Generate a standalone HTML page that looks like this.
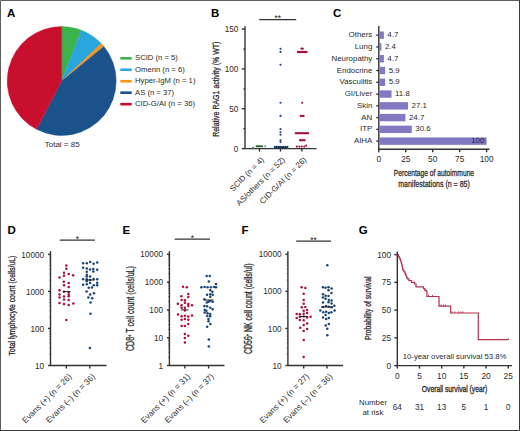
<!DOCTYPE html>
<html><head><meta charset="utf-8"><style>
html,body{margin:0;padding:0;background:#fff;}
svg{display:block;}
text{font-family:"Liberation Sans", sans-serif;}
</style></head><body>
<svg width="520" height="431" viewBox="0 0 520 431" font-family='"Liberation Sans", sans-serif'><text x="7" y="16.8" font-size="11.5" font-weight="bold" fill="#000">A</text>
<path d="M61.7,81.0 L61.70,26.50 A54.5,54.5 0 0 1 81.39,30.18 Z" fill="#3cb44b" stroke="#3cb44b" stroke-width="0.4" stroke-linejoin="round"/>
<path d="M61.7,81.0 L81.39,30.18 A54.5,54.5 0 0 1 101.29,43.55 Z" fill="#29a6dc" stroke="#29a6dc" stroke-width="0.4" stroke-linejoin="round"/>
<path d="M61.7,81.0 L101.29,43.55 A54.5,54.5 0 0 1 103.95,46.57 Z" fill="#f7941d" stroke="#f7941d" stroke-width="0.4" stroke-linejoin="round"/>
<path d="M61.7,81.0 L103.95,46.57 A54.5,54.5 0 0 1 36.51,129.33 Z" fill="#1a528b" stroke="#1a528b" stroke-width="0.4" stroke-linejoin="round"/>
<path d="M61.7,81.0 L36.51,129.33 A54.5,54.5 0 0 1 61.70,26.50 Z" fill="#c8102e" stroke="#c8102e" stroke-width="0.4" stroke-linejoin="round"/>
<rect x="120.3" y="57.00" width="11.4" height="2.6" fill="#3cb44b"/>
<text x="135.00" y="60.30" font-size="7.7" text-anchor="start" fill="#2b2b2b" font-weight="normal" >SCID (n = 5)</text>
<rect x="120.3" y="68.47" width="11.4" height="2.6" fill="#29a6dc"/>
<text x="135.00" y="71.77" font-size="7.7" text-anchor="start" fill="#2b2b2b" font-weight="normal" >Omenn (n = 6)</text>
<rect x="120.3" y="79.94" width="11.4" height="2.6" fill="#f7941d"/>
<text x="135.00" y="83.24" font-size="7.7" text-anchor="start" fill="#2b2b2b" font-weight="normal" >Hyper-IgM (n = 1)</text>
<rect x="120.3" y="91.41" width="11.4" height="2.6" fill="#1a528b"/>
<text x="135.00" y="94.71" font-size="7.7" text-anchor="start" fill="#2b2b2b" font-weight="normal" >AS (n = 37)</text>
<rect x="120.3" y="102.88" width="11.4" height="2.6" fill="#c8102e"/>
<text x="135.00" y="106.18" font-size="7.7" text-anchor="start" fill="#2b2b2b" font-weight="normal" >CID-G/AI (n = 36)</text>
<text x="62.20" y="146.90" font-size="8" text-anchor="middle" fill="#2b2b2b" font-weight="normal" >Total = 85</text>
<text x="211" y="16.5" font-size="11.5" font-weight="bold" fill="#000">B</text>
<line x1="245.00" y1="26.30" x2="245.00" y2="149.10" stroke="#333" stroke-width="1.4"/>
<line x1="244.50" y1="148.60" x2="316.50" y2="148.60" stroke="#333" stroke-width="1.4"/>
<line x1="241.80" y1="148.60" x2="245.00" y2="148.60" stroke="#333" stroke-width="1.4"/>
<text x="238.30" y="151.50" font-size="8.2" text-anchor="end" fill="#2b2b2b" font-weight="normal" >0</text>
<line x1="241.80" y1="108.77" x2="245.00" y2="108.77" stroke="#333" stroke-width="1.4"/>
<text x="238.30" y="111.67" font-size="8.2" text-anchor="end" fill="#2b2b2b" font-weight="normal" >50</text>
<line x1="241.80" y1="68.93" x2="245.00" y2="68.93" stroke="#333" stroke-width="1.4"/>
<text x="238.30" y="71.83" font-size="8.2" text-anchor="end" fill="#2b2b2b" font-weight="normal" >100</text>
<line x1="241.80" y1="29.10" x2="245.00" y2="29.10" stroke="#333" stroke-width="1.4"/>
<text x="238.30" y="32.00" font-size="8.2" text-anchor="end" fill="#2b2b2b" font-weight="normal" >150</text>
<line x1="243.40" y1="128.68" x2="245.00" y2="128.68" stroke="#333" stroke-width="1.4"/>
<line x1="243.40" y1="88.85" x2="245.00" y2="88.85" stroke="#333" stroke-width="1.4"/>
<line x1="243.40" y1="49.02" x2="245.00" y2="49.02" stroke="#333" stroke-width="1.4"/>
<line x1="259.50" y1="148.60" x2="259.50" y2="151.60" stroke="#333" stroke-width="1.4"/>
<line x1="280.50" y1="148.60" x2="280.50" y2="151.60" stroke="#333" stroke-width="1.4"/>
<line x1="302.00" y1="148.60" x2="302.00" y2="151.60" stroke="#333" stroke-width="1.4"/>
<text x="0" y="0" font-size="9.6" text-anchor="middle" fill="#2a2a2a" font-weight="normal" stroke="#2a2a2a" stroke-width="0.274" transform="translate(219.00 89.20) rotate(-90) scale(0.7307 1)">Relative RAG1 activity (% WT)</text>
<line x1="259.20" y1="19.60" x2="296.20" y2="19.60" stroke="#333" stroke-width="1.2"/>
<text x="277.70" y="21.20" font-size="8.5" text-anchor="middle" fill="#222" font-weight="normal" >**</text>
<circle cx="253.10" cy="147.60" r="1.0" fill="#4aa84a"/>
<circle cx="265.20" cy="146.30" r="1.0" fill="#4aa84a"/>
<line x1="255.80" y1="146.30" x2="262.90" y2="146.30" stroke="#1f4f22" stroke-width="1.7"/>
<circle cx="280.50" cy="48.80" r="1.05" fill="#194375"/>
<circle cx="280.50" cy="51.90" r="1.05" fill="#194375"/>
<circle cx="280.50" cy="64.70" r="1.05" fill="#194375"/>
<circle cx="280.50" cy="102.70" r="1.05" fill="#194375"/>
<circle cx="280.50" cy="115.90" r="1.05" fill="#194375"/>
<circle cx="280.50" cy="129.10" r="1.05" fill="#194375"/>
<circle cx="280.50" cy="132.20" r="1.05" fill="#194375"/>
<circle cx="280.50" cy="134.70" r="1.05" fill="#194375"/>
<circle cx="280.50" cy="140.30" r="1.05" fill="#194375"/>
<circle cx="280.50" cy="142.10" r="1.05" fill="#194375"/>
<circle cx="274.80" cy="146.90" r="1.05" fill="#194375"/>
<circle cx="276.90" cy="146.90" r="1.05" fill="#194375"/>
<circle cx="279.00" cy="146.90" r="1.05" fill="#194375"/>
<circle cx="281.10" cy="146.90" r="1.05" fill="#194375"/>
<circle cx="283.20" cy="146.90" r="1.05" fill="#194375"/>
<circle cx="285.30" cy="146.90" r="1.05" fill="#194375"/>
<circle cx="287.40" cy="146.90" r="1.05" fill="#194375"/>
<line x1="274.50" y1="147.20" x2="287.50" y2="147.20" stroke="#0e2a50" stroke-width="1.3"/>
<circle cx="301.80" cy="48.50" r="1.05" fill="#aa0f3b"/>
<circle cx="302.20" cy="102.70" r="1.05" fill="#aa0f3b"/>
<circle cx="300.80" cy="115.90" r="1.05" fill="#aa0f3b"/>
<circle cx="303.30" cy="115.90" r="1.05" fill="#aa0f3b"/>
<circle cx="300.30" cy="140.30" r="1.05" fill="#aa0f3b"/>
<circle cx="302.30" cy="140.30" r="1.05" fill="#aa0f3b"/>
<circle cx="304.40" cy="140.30" r="1.05" fill="#aa0f3b"/>
<circle cx="296.80" cy="146.60" r="1.05" fill="#aa0f3b"/>
<circle cx="299.30" cy="146.60" r="1.05" fill="#aa0f3b"/>
<circle cx="301.80" cy="146.60" r="1.05" fill="#aa0f3b"/>
<circle cx="304.30" cy="146.60" r="1.05" fill="#aa0f3b"/>
<circle cx="306.20" cy="145.60" r="1.05" fill="#aa0f3b"/>
<line x1="297.00" y1="52.00" x2="307.50" y2="52.00" stroke="#aa0f3b" stroke-width="2.2"/>
<line x1="300.50" y1="48.60" x2="303.80" y2="48.60" stroke="#aa0f3b" stroke-width="1.6"/>
<line x1="294.80" y1="133.20" x2="309.10" y2="133.20" stroke="#aa0f3b" stroke-width="2.1"/>
<line x1="299.20" y1="140.30" x2="305.40" y2="140.30" stroke="#aa0f3b" stroke-width="1.8"/>
<line x1="300.20" y1="115.90" x2="304.40" y2="115.90" stroke="#aa0f3b" stroke-width="1.8"/>
<text x="264.50" y="160.30" font-size="8" text-anchor="end" fill="#2b2b2b" transform="rotate(-45 264.50 160.30)">SCID (n = 4)</text>
<text x="285.50" y="160.30" font-size="8" text-anchor="end" fill="#2b2b2b" transform="rotate(-45 285.50 160.30)">AS/others (n = 52)</text>
<text x="307.00" y="160.30" font-size="8" text-anchor="end" fill="#2b2b2b" transform="rotate(-45 307.00 160.30)">CID-G/AI (n = 26)</text>
<text x="333" y="17.3" font-size="11.5" font-weight="bold" fill="#000">C</text>
<line x1="378.80" y1="26.00" x2="378.80" y2="149.70" stroke="#333" stroke-width="1.4"/>
<line x1="378.30" y1="149.20" x2="489.50" y2="149.20" stroke="#333" stroke-width="1.4"/>
<rect x="379.30" y="31.50" width="4.57" height="7.4" fill="#8279c2"/>
<line x1="376.30" y1="35.20" x2="378.80" y2="35.20" stroke="#333" stroke-width="1.4"/>
<text x="372.30" y="37.30" font-size="7.9" text-anchor="end" fill="#2b2b2b" font-weight="normal" >Others</text>
<text x="387.37" y="37.30" font-size="7.9" text-anchor="start" fill="#2b2b2b" font-weight="normal" >4.7</text>
<rect x="379.30" y="43.27" width="2.09" height="7.4" fill="#8279c2"/>
<line x1="376.30" y1="46.97" x2="378.80" y2="46.97" stroke="#333" stroke-width="1.4"/>
<text x="372.30" y="49.07" font-size="7.9" text-anchor="end" fill="#2b2b2b" font-weight="normal" >Lung</text>
<text x="384.89" y="49.07" font-size="7.9" text-anchor="start" fill="#2b2b2b" font-weight="normal" >2.4</text>
<rect x="379.30" y="55.04" width="4.57" height="7.4" fill="#8279c2"/>
<line x1="376.30" y1="58.74" x2="378.80" y2="58.74" stroke="#333" stroke-width="1.4"/>
<text x="372.30" y="60.84" font-size="7.9" text-anchor="end" fill="#2b2b2b" font-weight="normal" >Neuropathy</text>
<text x="387.37" y="60.84" font-size="7.9" text-anchor="start" fill="#2b2b2b" font-weight="normal" >4.7</text>
<rect x="379.30" y="66.81" width="5.86" height="7.4" fill="#8279c2"/>
<line x1="376.30" y1="70.51" x2="378.80" y2="70.51" stroke="#333" stroke-width="1.4"/>
<text x="372.30" y="72.61" font-size="7.9" text-anchor="end" fill="#2b2b2b" font-weight="normal" >Endocrine</text>
<text x="388.66" y="72.61" font-size="7.9" text-anchor="start" fill="#2b2b2b" font-weight="normal" >5.9</text>
<rect x="379.30" y="78.58" width="5.86" height="7.4" fill="#8279c2"/>
<line x1="376.30" y1="82.28" x2="378.80" y2="82.28" stroke="#333" stroke-width="1.4"/>
<text x="372.30" y="84.38" font-size="7.9" text-anchor="end" fill="#2b2b2b" font-weight="normal" >Vasculitis</text>
<text x="388.66" y="84.38" font-size="7.9" text-anchor="start" fill="#2b2b2b" font-weight="normal" >5.9</text>
<rect x="379.30" y="90.35" width="12.22" height="7.4" fill="#8279c2"/>
<line x1="376.30" y1="94.05" x2="378.80" y2="94.05" stroke="#333" stroke-width="1.4"/>
<text x="372.30" y="96.15" font-size="7.9" text-anchor="end" fill="#2b2b2b" font-weight="normal" >GI/Liver</text>
<text x="395.02" y="96.15" font-size="7.9" text-anchor="start" fill="#2b2b2b" font-weight="normal" >11.8</text>
<rect x="379.30" y="102.12" width="28.71" height="7.4" fill="#8279c2"/>
<line x1="376.30" y1="105.82" x2="378.80" y2="105.82" stroke="#333" stroke-width="1.4"/>
<text x="372.30" y="107.92" font-size="7.9" text-anchor="end" fill="#2b2b2b" font-weight="normal" >Skin</text>
<text x="411.51" y="107.92" font-size="7.9" text-anchor="start" fill="#2b2b2b" font-weight="normal" >27.1</text>
<rect x="379.30" y="113.89" width="26.13" height="7.4" fill="#8279c2"/>
<line x1="376.30" y1="117.59" x2="378.80" y2="117.59" stroke="#333" stroke-width="1.4"/>
<text x="372.30" y="119.69" font-size="7.9" text-anchor="end" fill="#2b2b2b" font-weight="normal" >AN</text>
<text x="408.93" y="119.69" font-size="7.9" text-anchor="start" fill="#2b2b2b" font-weight="normal" >24.7</text>
<rect x="379.30" y="125.66" width="32.49" height="7.4" fill="#8279c2"/>
<line x1="376.30" y1="129.36" x2="378.80" y2="129.36" stroke="#333" stroke-width="1.4"/>
<text x="372.30" y="131.46" font-size="7.9" text-anchor="end" fill="#2b2b2b" font-weight="normal" >ITP</text>
<text x="415.29" y="131.46" font-size="7.9" text-anchor="start" fill="#2b2b2b" font-weight="normal" >30.6</text>
<rect x="379.30" y="137.43" width="107.30" height="7.4" fill="#8279c2"/>
<line x1="376.30" y1="141.13" x2="378.80" y2="141.13" stroke="#333" stroke-width="1.4"/>
<text x="372.30" y="143.23" font-size="7.9" text-anchor="end" fill="#2b2b2b" font-weight="normal" >AIHA</text>
<text x="484.40" y="143.23" font-size="7.9" text-anchor="end" fill="#1a1a4a" font-weight="normal" >100</text>
<line x1="378.80" y1="149.20" x2="378.80" y2="152.20" stroke="#333" stroke-width="1.4"/>
<text x="378.80" y="161.80" font-size="8.3" text-anchor="middle" fill="#2b2b2b" font-weight="normal" >0</text>
<line x1="405.75" y1="149.20" x2="405.75" y2="152.20" stroke="#333" stroke-width="1.4"/>
<text x="405.75" y="161.80" font-size="8.3" text-anchor="middle" fill="#2b2b2b" font-weight="normal" >25</text>
<line x1="432.70" y1="149.20" x2="432.70" y2="152.20" stroke="#333" stroke-width="1.4"/>
<text x="432.70" y="161.80" font-size="8.3" text-anchor="middle" fill="#2b2b2b" font-weight="normal" >50</text>
<line x1="459.65" y1="149.20" x2="459.65" y2="152.20" stroke="#333" stroke-width="1.4"/>
<text x="459.65" y="161.80" font-size="8.3" text-anchor="middle" fill="#2b2b2b" font-weight="normal" >75</text>
<line x1="486.60" y1="149.20" x2="486.60" y2="152.20" stroke="#333" stroke-width="1.4"/>
<text x="486.60" y="161.80" font-size="8.3" text-anchor="middle" fill="#2b2b2b" font-weight="normal" >100</text>
<text x="0" y="0" font-size="9.3" text-anchor="middle" fill="#2a2a2a" font-weight="normal" stroke="#2a2a2a" stroke-width="0.277" transform="translate(433.90 175.90) scale(0.7209 1)">Percentage of autoimmune</text>
<text x="0" y="0" font-size="9.3" text-anchor="middle" fill="#2a2a2a" font-weight="normal" stroke="#2a2a2a" stroke-width="0.264" transform="translate(434.00 187.20) scale(0.7569 1)">manifestations (n = 85)</text>
<text x="7.5" y="233.9" font-size="11.5" font-weight="bold" fill="#000">D</text>
<line x1="50.50" y1="251.20" x2="50.50" y2="366.00" stroke="#333" stroke-width="1.4"/>
<line x1="50.00" y1="365.50" x2="106.50" y2="365.50" stroke="#333" stroke-width="1.4"/>
<line x1="48.00" y1="254.40" x2="50.50" y2="254.40" stroke="#333" stroke-width="1.4"/>
<text x="44.10" y="257.50" font-size="8.2" text-anchor="end" fill="#2b2b2b" font-weight="normal" >10000</text>
<line x1="48.00" y1="291.40" x2="50.50" y2="291.40" stroke="#333" stroke-width="1.4"/>
<text x="44.10" y="294.50" font-size="8.2" text-anchor="end" fill="#2b2b2b" font-weight="normal" >1000</text>
<line x1="48.00" y1="328.40" x2="50.50" y2="328.40" stroke="#333" stroke-width="1.4"/>
<text x="44.10" y="331.50" font-size="8.2" text-anchor="end" fill="#2b2b2b" font-weight="normal" >100</text>
<line x1="48.00" y1="365.50" x2="50.50" y2="365.50" stroke="#333" stroke-width="1.4"/>
<text x="44.10" y="368.60" font-size="8.2" text-anchor="end" fill="#2b2b2b" font-weight="normal" >10</text>
<line x1="49.30" y1="280.26" x2="50.50" y2="280.26" stroke="#333" stroke-width="0.6"/>
<line x1="49.30" y1="273.75" x2="50.50" y2="273.75" stroke="#333" stroke-width="0.6"/>
<line x1="49.30" y1="269.12" x2="50.50" y2="269.12" stroke="#333" stroke-width="0.6"/>
<line x1="49.30" y1="265.54" x2="50.50" y2="265.54" stroke="#333" stroke-width="0.6"/>
<line x1="49.30" y1="262.61" x2="50.50" y2="262.61" stroke="#333" stroke-width="0.6"/>
<line x1="49.30" y1="260.13" x2="50.50" y2="260.13" stroke="#333" stroke-width="0.6"/>
<line x1="49.30" y1="257.99" x2="50.50" y2="257.99" stroke="#333" stroke-width="0.6"/>
<line x1="49.30" y1="256.09" x2="50.50" y2="256.09" stroke="#333" stroke-width="0.6"/>
<line x1="49.30" y1="317.26" x2="50.50" y2="317.26" stroke="#333" stroke-width="0.6"/>
<line x1="49.30" y1="310.75" x2="50.50" y2="310.75" stroke="#333" stroke-width="0.6"/>
<line x1="49.30" y1="306.12" x2="50.50" y2="306.12" stroke="#333" stroke-width="0.6"/>
<line x1="49.30" y1="302.54" x2="50.50" y2="302.54" stroke="#333" stroke-width="0.6"/>
<line x1="49.30" y1="299.61" x2="50.50" y2="299.61" stroke="#333" stroke-width="0.6"/>
<line x1="49.30" y1="297.13" x2="50.50" y2="297.13" stroke="#333" stroke-width="0.6"/>
<line x1="49.30" y1="294.99" x2="50.50" y2="294.99" stroke="#333" stroke-width="0.6"/>
<line x1="49.30" y1="293.09" x2="50.50" y2="293.09" stroke="#333" stroke-width="0.6"/>
<line x1="49.30" y1="354.33" x2="50.50" y2="354.33" stroke="#333" stroke-width="0.6"/>
<line x1="49.30" y1="347.80" x2="50.50" y2="347.80" stroke="#333" stroke-width="0.6"/>
<line x1="49.30" y1="343.16" x2="50.50" y2="343.16" stroke="#333" stroke-width="0.6"/>
<line x1="49.30" y1="339.57" x2="50.50" y2="339.57" stroke="#333" stroke-width="0.6"/>
<line x1="49.30" y1="336.63" x2="50.50" y2="336.63" stroke="#333" stroke-width="0.6"/>
<line x1="49.30" y1="334.15" x2="50.50" y2="334.15" stroke="#333" stroke-width="0.6"/>
<line x1="49.30" y1="332.00" x2="50.50" y2="332.00" stroke="#333" stroke-width="0.6"/>
<line x1="49.30" y1="330.10" x2="50.50" y2="330.10" stroke="#333" stroke-width="0.6"/>
<text x="0" y="0" font-size="9.8" text-anchor="middle" fill="#2a2a2a" font-weight="normal" stroke="#2a2a2a" stroke-width="0.284" transform="translate(14.80 305.60) rotate(-90) scale(0.7034 1)">Total lymphocyte count (cells/uL)</text>
<line x1="59.80" y1="240.20" x2="94.90" y2="240.20" stroke="#333" stroke-width="1.2"/>
<text x="77.35" y="241.80" font-size="8.5" text-anchor="middle" fill="#222" font-weight="normal" >*</text>
<circle cx="66.30" cy="265.40" r="1.25" fill="#aa0f3b"/>
<circle cx="66.30" cy="268.80" r="1.25" fill="#aa0f3b"/>
<circle cx="64.00" cy="272.80" r="1.25" fill="#aa0f3b"/>
<circle cx="68.70" cy="274.10" r="1.25" fill="#aa0f3b"/>
<circle cx="64.00" cy="275.80" r="1.25" fill="#aa0f3b"/>
<circle cx="73.10" cy="275.30" r="1.25" fill="#aa0f3b"/>
<circle cx="59.50" cy="277.50" r="1.25" fill="#aa0f3b"/>
<circle cx="63.80" cy="281.80" r="1.25" fill="#aa0f3b"/>
<circle cx="68.70" cy="283.00" r="1.25" fill="#aa0f3b"/>
<circle cx="64.00" cy="285.30" r="1.25" fill="#aa0f3b"/>
<circle cx="68.70" cy="287.00" r="1.25" fill="#aa0f3b"/>
<circle cx="59.50" cy="290.30" r="1.25" fill="#aa0f3b"/>
<circle cx="64.00" cy="291.70" r="1.25" fill="#aa0f3b"/>
<circle cx="68.70" cy="292.20" r="1.25" fill="#aa0f3b"/>
<circle cx="59.50" cy="294.50" r="1.25" fill="#aa0f3b"/>
<circle cx="68.70" cy="294.50" r="1.25" fill="#aa0f3b"/>
<circle cx="68.70" cy="296.30" r="1.25" fill="#aa0f3b"/>
<circle cx="64.00" cy="296.50" r="1.25" fill="#aa0f3b"/>
<circle cx="59.50" cy="297.40" r="1.25" fill="#aa0f3b"/>
<circle cx="64.00" cy="299.50" r="1.25" fill="#aa0f3b"/>
<circle cx="68.70" cy="300.00" r="1.25" fill="#aa0f3b"/>
<circle cx="59.50" cy="303.00" r="1.25" fill="#aa0f3b"/>
<circle cx="64.00" cy="303.90" r="1.25" fill="#aa0f3b"/>
<circle cx="68.70" cy="304.90" r="1.25" fill="#aa0f3b"/>
<circle cx="73.30" cy="303.50" r="1.25" fill="#aa0f3b"/>
<circle cx="66.30" cy="319.90" r="1.25" fill="#aa0f3b"/>
<circle cx="83.10" cy="263.20" r="1.25" fill="#194375"/>
<circle cx="86.80" cy="263.20" r="1.25" fill="#194375"/>
<circle cx="90.10" cy="262.00" r="1.25" fill="#194375"/>
<circle cx="93.60" cy="263.80" r="1.25" fill="#194375"/>
<circle cx="97.20" cy="262.40" r="1.25" fill="#194375"/>
<circle cx="83.10" cy="267.80" r="1.25" fill="#194375"/>
<circle cx="86.80" cy="268.50" r="1.25" fill="#194375"/>
<circle cx="90.10" cy="269.40" r="1.25" fill="#194375"/>
<circle cx="93.30" cy="268.90" r="1.25" fill="#194375"/>
<circle cx="93.30" cy="271.50" r="1.25" fill="#194375"/>
<circle cx="97.20" cy="269.70" r="1.25" fill="#194375"/>
<circle cx="86.80" cy="271.70" r="1.25" fill="#194375"/>
<circle cx="86.80" cy="274.70" r="1.25" fill="#194375"/>
<circle cx="86.80" cy="276.60" r="1.25" fill="#194375"/>
<circle cx="90.10" cy="276.60" r="1.25" fill="#194375"/>
<circle cx="83.10" cy="279.30" r="1.25" fill="#194375"/>
<circle cx="86.80" cy="279.30" r="1.25" fill="#194375"/>
<circle cx="90.10" cy="280.10" r="1.25" fill="#194375"/>
<circle cx="93.60" cy="279.00" r="1.25" fill="#194375"/>
<circle cx="97.20" cy="279.30" r="1.25" fill="#194375"/>
<circle cx="86.80" cy="281.20" r="1.25" fill="#194375"/>
<circle cx="90.10" cy="282.90" r="1.25" fill="#194375"/>
<circle cx="97.20" cy="282.70" r="1.25" fill="#194375"/>
<circle cx="83.10" cy="284.70" r="1.25" fill="#194375"/>
<circle cx="86.80" cy="284.30" r="1.25" fill="#194375"/>
<circle cx="93.80" cy="285.20" r="1.25" fill="#194375"/>
<circle cx="97.20" cy="285.20" r="1.25" fill="#194375"/>
<circle cx="88.70" cy="287.70" r="1.25" fill="#194375"/>
<circle cx="91.90" cy="287.50" r="1.25" fill="#194375"/>
<circle cx="86.60" cy="291.60" r="1.25" fill="#194375"/>
<circle cx="90.20" cy="294.50" r="1.25" fill="#194375"/>
<circle cx="94.00" cy="293.30" r="1.25" fill="#194375"/>
<circle cx="88.40" cy="297.50" r="1.25" fill="#194375"/>
<circle cx="92.20" cy="298.20" r="1.25" fill="#194375"/>
<circle cx="90.50" cy="302.40" r="1.25" fill="#194375"/>
<circle cx="90.50" cy="313.80" r="1.25" fill="#194375"/>
<circle cx="89.90" cy="347.90" r="1.25" fill="#194375"/>
<line x1="62.70" y1="291.60" x2="70.50" y2="291.60" stroke="#222" stroke-width="1"/>
<line x1="85.00" y1="280.00" x2="94.50" y2="280.00" stroke="#222" stroke-width="1"/>
<line x1="66.30" y1="365.50" x2="66.30" y2="368.50" stroke="#333" stroke-width="1.4"/>
<line x1="89.80" y1="365.50" x2="89.80" y2="368.50" stroke="#333" stroke-width="1.4"/>
<text x="72.20" y="377.00" font-size="8.2" text-anchor="end" fill="#2b2b2b" transform="rotate(-45 72.20 377.00)">Evans (+) (n = 26)</text>
<text x="95.70" y="377.00" font-size="8.2" text-anchor="end" fill="#2b2b2b" transform="rotate(-45 95.70 377.00)">Evans (–) (n = 36)</text>
<text x="122.5" y="233.9" font-size="11.5" font-weight="bold" fill="#000">E</text>
<line x1="169.40" y1="251.20" x2="169.40" y2="366.00" stroke="#333" stroke-width="1.4"/>
<line x1="168.90" y1="365.50" x2="224.50" y2="365.50" stroke="#333" stroke-width="1.4"/>
<line x1="166.90" y1="254.20" x2="169.40" y2="254.20" stroke="#333" stroke-width="1.4"/>
<text x="163.00" y="257.30" font-size="8.2" text-anchor="end" fill="#2b2b2b" font-weight="normal" >10000</text>
<line x1="166.90" y1="282.10" x2="169.40" y2="282.10" stroke="#333" stroke-width="1.4"/>
<text x="163.00" y="285.20" font-size="8.2" text-anchor="end" fill="#2b2b2b" font-weight="normal" >1000</text>
<line x1="166.90" y1="310.00" x2="169.40" y2="310.00" stroke="#333" stroke-width="1.4"/>
<text x="163.00" y="313.10" font-size="8.2" text-anchor="end" fill="#2b2b2b" font-weight="normal" >100</text>
<line x1="166.90" y1="337.80" x2="169.40" y2="337.80" stroke="#333" stroke-width="1.4"/>
<text x="163.00" y="340.90" font-size="8.2" text-anchor="end" fill="#2b2b2b" font-weight="normal" >10</text>
<line x1="166.90" y1="365.50" x2="169.40" y2="365.50" stroke="#333" stroke-width="1.4"/>
<text x="163.00" y="368.60" font-size="8.2" text-anchor="end" fill="#2b2b2b" font-weight="normal" >1</text>
<line x1="168.20" y1="273.70" x2="169.40" y2="273.70" stroke="#333" stroke-width="0.6"/>
<line x1="168.20" y1="268.79" x2="169.40" y2="268.79" stroke="#333" stroke-width="0.6"/>
<line x1="168.20" y1="265.30" x2="169.40" y2="265.30" stroke="#333" stroke-width="0.6"/>
<line x1="168.20" y1="262.60" x2="169.40" y2="262.60" stroke="#333" stroke-width="0.6"/>
<line x1="168.20" y1="260.39" x2="169.40" y2="260.39" stroke="#333" stroke-width="0.6"/>
<line x1="168.20" y1="258.52" x2="169.40" y2="258.52" stroke="#333" stroke-width="0.6"/>
<line x1="168.20" y1="256.90" x2="169.40" y2="256.90" stroke="#333" stroke-width="0.6"/>
<line x1="168.20" y1="255.48" x2="169.40" y2="255.48" stroke="#333" stroke-width="0.6"/>
<line x1="168.20" y1="301.60" x2="169.40" y2="301.60" stroke="#333" stroke-width="0.6"/>
<line x1="168.20" y1="296.69" x2="169.40" y2="296.69" stroke="#333" stroke-width="0.6"/>
<line x1="168.20" y1="293.20" x2="169.40" y2="293.20" stroke="#333" stroke-width="0.6"/>
<line x1="168.20" y1="290.50" x2="169.40" y2="290.50" stroke="#333" stroke-width="0.6"/>
<line x1="168.20" y1="288.29" x2="169.40" y2="288.29" stroke="#333" stroke-width="0.6"/>
<line x1="168.20" y1="286.42" x2="169.40" y2="286.42" stroke="#333" stroke-width="0.6"/>
<line x1="168.20" y1="284.80" x2="169.40" y2="284.80" stroke="#333" stroke-width="0.6"/>
<line x1="168.20" y1="283.38" x2="169.40" y2="283.38" stroke="#333" stroke-width="0.6"/>
<line x1="168.20" y1="329.43" x2="169.40" y2="329.43" stroke="#333" stroke-width="0.6"/>
<line x1="168.20" y1="324.54" x2="169.40" y2="324.54" stroke="#333" stroke-width="0.6"/>
<line x1="168.20" y1="321.06" x2="169.40" y2="321.06" stroke="#333" stroke-width="0.6"/>
<line x1="168.20" y1="318.37" x2="169.40" y2="318.37" stroke="#333" stroke-width="0.6"/>
<line x1="168.20" y1="316.17" x2="169.40" y2="316.17" stroke="#333" stroke-width="0.6"/>
<line x1="168.20" y1="314.31" x2="169.40" y2="314.31" stroke="#333" stroke-width="0.6"/>
<line x1="168.20" y1="312.69" x2="169.40" y2="312.69" stroke="#333" stroke-width="0.6"/>
<line x1="168.20" y1="311.27" x2="169.40" y2="311.27" stroke="#333" stroke-width="0.6"/>
<line x1="168.20" y1="357.16" x2="169.40" y2="357.16" stroke="#333" stroke-width="0.6"/>
<line x1="168.20" y1="352.28" x2="169.40" y2="352.28" stroke="#333" stroke-width="0.6"/>
<line x1="168.20" y1="348.82" x2="169.40" y2="348.82" stroke="#333" stroke-width="0.6"/>
<line x1="168.20" y1="346.14" x2="169.40" y2="346.14" stroke="#333" stroke-width="0.6"/>
<line x1="168.20" y1="343.95" x2="169.40" y2="343.95" stroke="#333" stroke-width="0.6"/>
<line x1="168.20" y1="342.09" x2="169.40" y2="342.09" stroke="#333" stroke-width="0.6"/>
<line x1="168.20" y1="340.48" x2="169.40" y2="340.48" stroke="#333" stroke-width="0.6"/>
<line x1="168.20" y1="339.07" x2="169.40" y2="339.07" stroke="#333" stroke-width="0.6"/>
<text x="0" y="0" font-size="10.4" text-anchor="middle" fill="#2a2a2a" font-weight="normal" stroke="#2a2a2a" stroke-width="0.294" transform="translate(133.80 308.60) rotate(-90) scale(0.6796 1)">CD8<tspan font-size="6" dy="-3">+</tspan><tspan dy="3"> T cell count (cells/uL)</tspan></text>
<line x1="174.70" y1="239.10" x2="210.00" y2="239.10" stroke="#333" stroke-width="1.2"/>
<text x="192.35" y="240.70" font-size="8.5" text-anchor="middle" fill="#222" font-weight="normal" >*</text>
<circle cx="183.00" cy="286.70" r="1.25" fill="#aa0f3b"/>
<circle cx="186.80" cy="287.20" r="1.25" fill="#aa0f3b"/>
<circle cx="188.30" cy="293.90" r="1.25" fill="#aa0f3b"/>
<circle cx="181.40" cy="296.30" r="1.25" fill="#aa0f3b"/>
<circle cx="188.30" cy="296.90" r="1.25" fill="#aa0f3b"/>
<circle cx="181.60" cy="300.00" r="1.25" fill="#aa0f3b"/>
<circle cx="184.90" cy="300.30" r="1.25" fill="#aa0f3b"/>
<circle cx="184.90" cy="302.80" r="1.25" fill="#aa0f3b"/>
<circle cx="177.80" cy="303.70" r="1.25" fill="#aa0f3b"/>
<circle cx="188.30" cy="304.00" r="1.25" fill="#aa0f3b"/>
<circle cx="181.60" cy="305.30" r="1.25" fill="#aa0f3b"/>
<circle cx="188.30" cy="306.00" r="1.25" fill="#aa0f3b"/>
<circle cx="192.00" cy="305.30" r="1.25" fill="#aa0f3b"/>
<circle cx="181.60" cy="307.70" r="1.25" fill="#aa0f3b"/>
<circle cx="184.90" cy="307.70" r="1.25" fill="#aa0f3b"/>
<circle cx="184.90" cy="310.50" r="1.25" fill="#aa0f3b"/>
<circle cx="178.10" cy="314.50" r="1.25" fill="#aa0f3b"/>
<circle cx="181.60" cy="316.30" r="1.25" fill="#aa0f3b"/>
<circle cx="184.90" cy="315.80" r="1.25" fill="#aa0f3b"/>
<circle cx="188.30" cy="316.50" r="1.25" fill="#aa0f3b"/>
<circle cx="192.00" cy="315.40" r="1.25" fill="#aa0f3b"/>
<circle cx="181.60" cy="319.80" r="1.25" fill="#aa0f3b"/>
<circle cx="184.90" cy="319.00" r="1.25" fill="#aa0f3b"/>
<circle cx="188.30" cy="319.80" r="1.25" fill="#aa0f3b"/>
<circle cx="181.60" cy="326.00" r="1.25" fill="#aa0f3b"/>
<circle cx="184.90" cy="326.00" r="1.25" fill="#aa0f3b"/>
<circle cx="188.30" cy="323.90" r="1.25" fill="#aa0f3b"/>
<circle cx="184.90" cy="334.00" r="1.25" fill="#aa0f3b"/>
<circle cx="188.30" cy="335.80" r="1.25" fill="#aa0f3b"/>
<circle cx="184.90" cy="337.90" r="1.25" fill="#aa0f3b"/>
<circle cx="184.90" cy="342.50" r="1.25" fill="#aa0f3b"/>
<circle cx="206.70" cy="276.00" r="1.25" fill="#194375"/>
<circle cx="209.80" cy="276.00" r="1.25" fill="#194375"/>
<circle cx="208.80" cy="281.60" r="1.25" fill="#194375"/>
<circle cx="201.40" cy="287.20" r="1.25" fill="#194375"/>
<circle cx="204.60" cy="286.90" r="1.25" fill="#194375"/>
<circle cx="207.60" cy="287.20" r="1.25" fill="#194375"/>
<circle cx="210.90" cy="287.20" r="1.25" fill="#194375"/>
<circle cx="214.10" cy="286.90" r="1.25" fill="#194375"/>
<circle cx="216.00" cy="284.10" r="1.25" fill="#194375"/>
<circle cx="216.00" cy="287.20" r="1.25" fill="#194375"/>
<circle cx="210.30" cy="290.30" r="1.25" fill="#194375"/>
<circle cx="212.40" cy="291.70" r="1.25" fill="#194375"/>
<circle cx="207.10" cy="294.70" r="1.25" fill="#194375"/>
<circle cx="210.30" cy="294.20" r="1.25" fill="#194375"/>
<circle cx="212.70" cy="294.70" r="1.25" fill="#194375"/>
<circle cx="210.30" cy="296.80" r="1.25" fill="#194375"/>
<circle cx="204.40" cy="299.20" r="1.25" fill="#194375"/>
<circle cx="206.80" cy="302.50" r="1.25" fill="#194375"/>
<circle cx="208.50" cy="301.80" r="1.25" fill="#194375"/>
<circle cx="210.30" cy="301.00" r="1.25" fill="#194375"/>
<circle cx="212.70" cy="301.80" r="1.25" fill="#194375"/>
<circle cx="204.40" cy="306.00" r="1.25" fill="#194375"/>
<circle cx="207.10" cy="306.20" r="1.25" fill="#194375"/>
<circle cx="210.30" cy="307.80" r="1.25" fill="#194375"/>
<circle cx="212.70" cy="309.20" r="1.25" fill="#194375"/>
<circle cx="204.70" cy="309.80" r="1.25" fill="#194375"/>
<circle cx="206.40" cy="310.80" r="1.25" fill="#194375"/>
<circle cx="204.70" cy="312.60" r="1.25" fill="#194375"/>
<circle cx="207.50" cy="313.30" r="1.25" fill="#194375"/>
<circle cx="210.20" cy="314.00" r="1.25" fill="#194375"/>
<circle cx="207.30" cy="316.00" r="1.25" fill="#194375"/>
<circle cx="210.20" cy="316.20" r="1.25" fill="#194375"/>
<circle cx="208.50" cy="319.00" r="1.25" fill="#194375"/>
<circle cx="208.50" cy="321.30" r="1.25" fill="#194375"/>
<circle cx="210.40" cy="324.10" r="1.25" fill="#194375"/>
<circle cx="207.20" cy="326.70" r="1.25" fill="#194375"/>
<circle cx="208.80" cy="339.40" r="1.25" fill="#194375"/>
<circle cx="208.80" cy="346.60" r="1.25" fill="#194375"/>
<line x1="180.90" y1="309.90" x2="188.50" y2="309.90" stroke="#222" stroke-width="1"/>
<line x1="204.00" y1="300.00" x2="213.50" y2="300.00" stroke="#222" stroke-width="1"/>
<line x1="184.90" y1="365.50" x2="184.90" y2="368.50" stroke="#333" stroke-width="1.4"/>
<line x1="208.60" y1="365.50" x2="208.60" y2="368.50" stroke="#333" stroke-width="1.4"/>
<text x="190.80" y="377.00" font-size="8.2" text-anchor="end" fill="#2b2b2b" transform="rotate(-45 190.80 377.00)">Evans (+) (n = 31)</text>
<text x="214.50" y="377.00" font-size="8.2" text-anchor="end" fill="#2b2b2b" transform="rotate(-45 214.50 377.00)">Evans (–) (n = 37)</text>
<text x="241.6" y="233.9" font-size="11.5" font-weight="bold" fill="#000">F</text>
<line x1="287.90" y1="251.20" x2="287.90" y2="366.00" stroke="#333" stroke-width="1.4"/>
<line x1="287.40" y1="365.50" x2="343.00" y2="365.50" stroke="#333" stroke-width="1.4"/>
<line x1="285.40" y1="254.30" x2="287.90" y2="254.30" stroke="#333" stroke-width="1.4"/>
<text x="281.50" y="257.40" font-size="8.2" text-anchor="end" fill="#2b2b2b" font-weight="normal" >10000</text>
<line x1="285.40" y1="291.30" x2="287.90" y2="291.30" stroke="#333" stroke-width="1.4"/>
<text x="281.50" y="294.40" font-size="8.2" text-anchor="end" fill="#2b2b2b" font-weight="normal" >1000</text>
<line x1="285.40" y1="328.40" x2="287.90" y2="328.40" stroke="#333" stroke-width="1.4"/>
<text x="281.50" y="331.50" font-size="8.2" text-anchor="end" fill="#2b2b2b" font-weight="normal" >100</text>
<line x1="285.40" y1="365.50" x2="287.90" y2="365.50" stroke="#333" stroke-width="1.4"/>
<text x="281.50" y="368.60" font-size="8.2" text-anchor="end" fill="#2b2b2b" font-weight="normal" >10</text>
<line x1="286.70" y1="280.16" x2="287.90" y2="280.16" stroke="#333" stroke-width="0.6"/>
<line x1="286.70" y1="273.65" x2="287.90" y2="273.65" stroke="#333" stroke-width="0.6"/>
<line x1="286.70" y1="269.02" x2="287.90" y2="269.02" stroke="#333" stroke-width="0.6"/>
<line x1="286.70" y1="265.44" x2="287.90" y2="265.44" stroke="#333" stroke-width="0.6"/>
<line x1="286.70" y1="262.51" x2="287.90" y2="262.51" stroke="#333" stroke-width="0.6"/>
<line x1="286.70" y1="260.03" x2="287.90" y2="260.03" stroke="#333" stroke-width="0.6"/>
<line x1="286.70" y1="257.89" x2="287.90" y2="257.89" stroke="#333" stroke-width="0.6"/>
<line x1="286.70" y1="255.99" x2="287.90" y2="255.99" stroke="#333" stroke-width="0.6"/>
<line x1="286.70" y1="317.23" x2="287.90" y2="317.23" stroke="#333" stroke-width="0.6"/>
<line x1="286.70" y1="310.70" x2="287.90" y2="310.70" stroke="#333" stroke-width="0.6"/>
<line x1="286.70" y1="306.06" x2="287.90" y2="306.06" stroke="#333" stroke-width="0.6"/>
<line x1="286.70" y1="302.47" x2="287.90" y2="302.47" stroke="#333" stroke-width="0.6"/>
<line x1="286.70" y1="299.53" x2="287.90" y2="299.53" stroke="#333" stroke-width="0.6"/>
<line x1="286.70" y1="297.05" x2="287.90" y2="297.05" stroke="#333" stroke-width="0.6"/>
<line x1="286.70" y1="294.90" x2="287.90" y2="294.90" stroke="#333" stroke-width="0.6"/>
<line x1="286.70" y1="293.00" x2="287.90" y2="293.00" stroke="#333" stroke-width="0.6"/>
<line x1="286.70" y1="354.33" x2="287.90" y2="354.33" stroke="#333" stroke-width="0.6"/>
<line x1="286.70" y1="347.80" x2="287.90" y2="347.80" stroke="#333" stroke-width="0.6"/>
<line x1="286.70" y1="343.16" x2="287.90" y2="343.16" stroke="#333" stroke-width="0.6"/>
<line x1="286.70" y1="339.57" x2="287.90" y2="339.57" stroke="#333" stroke-width="0.6"/>
<line x1="286.70" y1="336.63" x2="287.90" y2="336.63" stroke="#333" stroke-width="0.6"/>
<line x1="286.70" y1="334.15" x2="287.90" y2="334.15" stroke="#333" stroke-width="0.6"/>
<line x1="286.70" y1="332.00" x2="287.90" y2="332.00" stroke="#333" stroke-width="0.6"/>
<line x1="286.70" y1="330.10" x2="287.90" y2="330.10" stroke="#333" stroke-width="0.6"/>
<text x="0" y="0" font-size="10.2" text-anchor="middle" fill="#2a2a2a" font-weight="normal" stroke="#2a2a2a" stroke-width="0.295" transform="translate(252.00 308.75) rotate(-90) scale(0.6788 1)">CD56<tspan font-size="6" dy="-3">+</tspan><tspan dy="3"> NK cell count (cells/ul)</tspan></text>
<line x1="296.20" y1="241.20" x2="331.00" y2="241.20" stroke="#333" stroke-width="1.2"/>
<text x="313.60" y="242.80" font-size="8.5" text-anchor="middle" fill="#222" font-weight="normal" >**</text>
<circle cx="301.60" cy="287.20" r="1.25" fill="#aa0f3b"/>
<circle cx="305.30" cy="288.10" r="1.25" fill="#aa0f3b"/>
<circle cx="303.70" cy="293.70" r="1.25" fill="#aa0f3b"/>
<circle cx="303.70" cy="299.90" r="1.25" fill="#aa0f3b"/>
<circle cx="303.70" cy="303.70" r="1.25" fill="#aa0f3b"/>
<circle cx="301.80" cy="307.20" r="1.25" fill="#aa0f3b"/>
<circle cx="305.30" cy="306.90" r="1.25" fill="#aa0f3b"/>
<circle cx="303.70" cy="310.70" r="1.25" fill="#aa0f3b"/>
<circle cx="307.10" cy="309.90" r="1.25" fill="#aa0f3b"/>
<circle cx="299.80" cy="314.20" r="1.25" fill="#aa0f3b"/>
<circle cx="303.70" cy="313.80" r="1.25" fill="#aa0f3b"/>
<circle cx="307.10" cy="313.00" r="1.25" fill="#aa0f3b"/>
<circle cx="296.70" cy="318.00" r="1.25" fill="#aa0f3b"/>
<circle cx="299.80" cy="316.80" r="1.25" fill="#aa0f3b"/>
<circle cx="303.70" cy="316.50" r="1.25" fill="#aa0f3b"/>
<circle cx="307.10" cy="317.60" r="1.25" fill="#aa0f3b"/>
<circle cx="310.60" cy="316.80" r="1.25" fill="#aa0f3b"/>
<circle cx="299.80" cy="320.00" r="1.25" fill="#aa0f3b"/>
<circle cx="303.70" cy="320.30" r="1.25" fill="#aa0f3b"/>
<circle cx="307.10" cy="323.50" r="1.25" fill="#aa0f3b"/>
<circle cx="303.70" cy="325.00" r="1.25" fill="#aa0f3b"/>
<circle cx="300.20" cy="327.70" r="1.25" fill="#aa0f3b"/>
<circle cx="307.10" cy="329.00" r="1.25" fill="#aa0f3b"/>
<circle cx="303.70" cy="331.00" r="1.25" fill="#aa0f3b"/>
<circle cx="303.70" cy="339.90" r="1.25" fill="#aa0f3b"/>
<circle cx="303.70" cy="357.10" r="1.25" fill="#aa0f3b"/>
<circle cx="296.70" cy="314.00" r="1.25" fill="#aa0f3b"/>
<circle cx="327.30" cy="265.20" r="1.25" fill="#194375"/>
<circle cx="323.00" cy="287.20" r="1.25" fill="#194375"/>
<circle cx="325.60" cy="287.80" r="1.25" fill="#194375"/>
<circle cx="328.50" cy="287.20" r="1.25" fill="#194375"/>
<circle cx="328.50" cy="290.30" r="1.25" fill="#194375"/>
<circle cx="331.60" cy="288.40" r="1.25" fill="#194375"/>
<circle cx="323.00" cy="294.20" r="1.25" fill="#194375"/>
<circle cx="325.60" cy="295.70" r="1.25" fill="#194375"/>
<circle cx="328.50" cy="295.90" r="1.25" fill="#194375"/>
<circle cx="323.00" cy="297.60" r="1.25" fill="#194375"/>
<circle cx="325.60" cy="298.80" r="1.25" fill="#194375"/>
<circle cx="328.80" cy="300.00" r="1.25" fill="#194375"/>
<circle cx="331.60" cy="300.50" r="1.25" fill="#194375"/>
<circle cx="323.00" cy="302.60" r="1.25" fill="#194375"/>
<circle cx="328.50" cy="302.30" r="1.25" fill="#194375"/>
<circle cx="331.60" cy="303.60" r="1.25" fill="#194375"/>
<circle cx="323.00" cy="306.90" r="1.25" fill="#194375"/>
<circle cx="326.00" cy="305.90" r="1.25" fill="#194375"/>
<circle cx="328.70" cy="306.80" r="1.25" fill="#194375"/>
<circle cx="331.50" cy="307.20" r="1.25" fill="#194375"/>
<circle cx="334.30" cy="305.70" r="1.25" fill="#194375"/>
<circle cx="320.40" cy="310.40" r="1.25" fill="#194375"/>
<circle cx="323.30" cy="312.20" r="1.25" fill="#194375"/>
<circle cx="326.20" cy="311.80" r="1.25" fill="#194375"/>
<circle cx="328.80" cy="313.00" r="1.25" fill="#194375"/>
<circle cx="331.40" cy="312.20" r="1.25" fill="#194375"/>
<circle cx="334.60" cy="310.40" r="1.25" fill="#194375"/>
<circle cx="325.60" cy="315.00" r="1.25" fill="#194375"/>
<circle cx="323.00" cy="317.40" r="1.25" fill="#194375"/>
<circle cx="326.20" cy="319.10" r="1.25" fill="#194375"/>
<circle cx="328.80" cy="318.00" r="1.25" fill="#194375"/>
<circle cx="325.80" cy="325.50" r="1.25" fill="#194375"/>
<circle cx="328.80" cy="324.10" r="1.25" fill="#194375"/>
<circle cx="327.30" cy="328.70" r="1.25" fill="#194375"/>
<circle cx="327.30" cy="335.30" r="1.25" fill="#194375"/>
<circle cx="331.40" cy="293.00" r="1.25" fill="#194375"/>
<line x1="299.00" y1="316.50" x2="308.00" y2="316.50" stroke="#222" stroke-width="1"/>
<line x1="321.00" y1="307.00" x2="333.00" y2="307.00" stroke="#222" stroke-width="1"/>
<line x1="303.70" y1="365.50" x2="303.70" y2="368.50" stroke="#333" stroke-width="1.4"/>
<line x1="327.00" y1="365.50" x2="327.00" y2="368.50" stroke="#333" stroke-width="1.4"/>
<text x="309.60" y="377.00" font-size="8.2" text-anchor="end" fill="#2b2b2b" transform="rotate(-45 309.60 377.00)">Evans (+) (n = 27)</text>
<text x="332.90" y="377.00" font-size="8.2" text-anchor="end" fill="#2b2b2b" transform="rotate(-45 332.90 377.00)">Evans (–) (n = 36)</text>
<text x="358.8" y="233.9" font-size="11.5" font-weight="bold" fill="#000">G</text>
<line x1="397.30" y1="251.50" x2="397.30" y2="366.10" stroke="#333" stroke-width="1.4"/>
<line x1="396.80" y1="365.60" x2="512.00" y2="365.60" stroke="#333" stroke-width="1.4"/>
<line x1="394.30" y1="365.60" x2="397.30" y2="365.60" stroke="#333" stroke-width="1.4"/>
<text x="391.00" y="368.50" font-size="8.3" text-anchor="end" fill="#2b2b2b" font-weight="normal" >0</text>
<line x1="394.30" y1="337.85" x2="397.30" y2="337.85" stroke="#333" stroke-width="1.4"/>
<text x="391.00" y="340.75" font-size="8.3" text-anchor="end" fill="#2b2b2b" font-weight="normal" >25</text>
<line x1="394.30" y1="310.10" x2="397.30" y2="310.10" stroke="#333" stroke-width="1.4"/>
<text x="391.00" y="313.00" font-size="8.3" text-anchor="end" fill="#2b2b2b" font-weight="normal" >50</text>
<line x1="394.30" y1="282.35" x2="397.30" y2="282.35" stroke="#333" stroke-width="1.4"/>
<text x="391.00" y="285.25" font-size="8.3" text-anchor="end" fill="#2b2b2b" font-weight="normal" >75</text>
<line x1="394.30" y1="254.60" x2="397.30" y2="254.60" stroke="#333" stroke-width="1.4"/>
<text x="391.00" y="257.50" font-size="8.3" text-anchor="end" fill="#2b2b2b" font-weight="normal" >100</text>
<line x1="397.30" y1="365.60" x2="397.30" y2="368.60" stroke="#333" stroke-width="1.4"/>
<text x="397.30" y="379.20" font-size="8.3" text-anchor="middle" fill="#2b2b2b" font-weight="normal" >0</text>
<line x1="419.48" y1="365.60" x2="419.48" y2="368.60" stroke="#333" stroke-width="1.4"/>
<text x="419.48" y="379.20" font-size="8.3" text-anchor="middle" fill="#2b2b2b" font-weight="normal" >5</text>
<line x1="441.66" y1="365.60" x2="441.66" y2="368.60" stroke="#333" stroke-width="1.4"/>
<text x="441.66" y="379.20" font-size="8.3" text-anchor="middle" fill="#2b2b2b" font-weight="normal" >10</text>
<line x1="463.84" y1="365.60" x2="463.84" y2="368.60" stroke="#333" stroke-width="1.4"/>
<text x="463.84" y="379.20" font-size="8.3" text-anchor="middle" fill="#2b2b2b" font-weight="normal" >15</text>
<line x1="486.02" y1="365.60" x2="486.02" y2="368.60" stroke="#333" stroke-width="1.4"/>
<text x="486.02" y="379.20" font-size="8.3" text-anchor="middle" fill="#2b2b2b" font-weight="normal" >20</text>
<line x1="508.20" y1="365.60" x2="508.20" y2="368.60" stroke="#333" stroke-width="1.4"/>
<text x="508.20" y="379.20" font-size="8.3" text-anchor="middle" fill="#2b2b2b" font-weight="normal" >25</text>
<text x="0" y="0" font-size="9.4" text-anchor="middle" fill="#2a2a2a" font-weight="normal" stroke="#2a2a2a" stroke-width="0.280" transform="translate(370.80 308.30) rotate(-90) scale(0.7150 1)">Probability of survival</text>
<path d="M397.4,254.6 H398.33 V256.33 H399.25 V258.06 H400.14 V259.79 H400.73 V261.52 H401.29 V263.25 H401.80 V264.98 H402.16 V266.71 H402.52 V268.44 H402.87 V270.17 H403.94 V271.90 H405.09 V273.63 H405.79 V275.36 H406.46 V277.09 H407.18 V278.82 H408.97 V280.55 H411.59 V282.28 H414.64 V284.01 H416.03 V285.74 V286.9 H423.5 V288.6 H424.8 V290.3 H426.2 V291.2 H426.9 V296.5 H439 V306.1 H450.7 V313 H478.3 V339.7 H508.4" fill="none" stroke="#b3304f" stroke-width="1.2"/>
<line x1="428.50" y1="296.50" x2="428.50" y2="294.90" stroke="#b3304f" stroke-width="0.9"/>
<line x1="432.50" y1="296.50" x2="432.50" y2="294.90" stroke="#b3304f" stroke-width="0.9"/>
<line x1="441.00" y1="306.10" x2="441.00" y2="304.50" stroke="#b3304f" stroke-width="0.9"/>
<line x1="443.50" y1="306.10" x2="443.50" y2="304.50" stroke="#b3304f" stroke-width="0.9"/>
<line x1="445.50" y1="306.10" x2="445.50" y2="304.50" stroke="#b3304f" stroke-width="0.9"/>
<line x1="452.00" y1="313.00" x2="452.00" y2="311.40" stroke="#b3304f" stroke-width="0.9"/>
<line x1="455.00" y1="313.00" x2="455.00" y2="311.40" stroke="#b3304f" stroke-width="0.9"/>
<line x1="458.50" y1="313.00" x2="458.50" y2="311.40" stroke="#b3304f" stroke-width="0.9"/>
<line x1="461.00" y1="313.00" x2="461.00" y2="311.40" stroke="#b3304f" stroke-width="0.9"/>
<line x1="463.00" y1="313.00" x2="463.00" y2="311.40" stroke="#b3304f" stroke-width="0.9"/>
<line x1="508.40" y1="339.70" x2="508.40" y2="338.10" stroke="#b3304f" stroke-width="0.9"/>
<text x="506.50" y="359.00" font-size="7.75" text-anchor="end" fill="#2b2b2b" font-weight="normal" >10-year overall survival 53.8%</text>
<text x="0" y="0" font-size="9.4" text-anchor="middle" fill="#2a2a2a" font-weight="normal" stroke="#2a2a2a" stroke-width="0.349" transform="translate(454.50 392.30) scale(0.7166 1)">Overall survival (year)</text>
<text x="373.00" y="405.40" font-size="7.9" text-anchor="middle" fill="#2b2b2b" font-weight="normal" >Number</text>
<text x="373.00" y="415.00" font-size="7.9" text-anchor="middle" fill="#2b2b2b" font-weight="normal" >at risk</text>
<text x="397.30" y="410.40" font-size="8.2" text-anchor="middle" fill="#2b2b2b" font-weight="normal" >64</text>
<text x="419.48" y="410.40" font-size="8.2" text-anchor="middle" fill="#2b2b2b" font-weight="normal" >31</text>
<text x="441.66" y="410.40" font-size="8.2" text-anchor="middle" fill="#2b2b2b" font-weight="normal" >13</text>
<text x="463.84" y="410.40" font-size="8.2" text-anchor="middle" fill="#2b2b2b" font-weight="normal" >5</text>
<text x="486.02" y="410.40" font-size="8.2" text-anchor="middle" fill="#2b2b2b" font-weight="normal" >1</text>
<text x="508.20" y="410.40" font-size="8.2" text-anchor="middle" fill="#2b2b2b" font-weight="normal" >0</text>
<path d="M0.5,431 V0.5 H520" fill="none" stroke="#5c5c5c" stroke-width="1"/>
<path d="M519.5,0 V430.5 H0" fill="none" stroke="#3a3a3a" stroke-width="1"/></svg>
</body></html>
